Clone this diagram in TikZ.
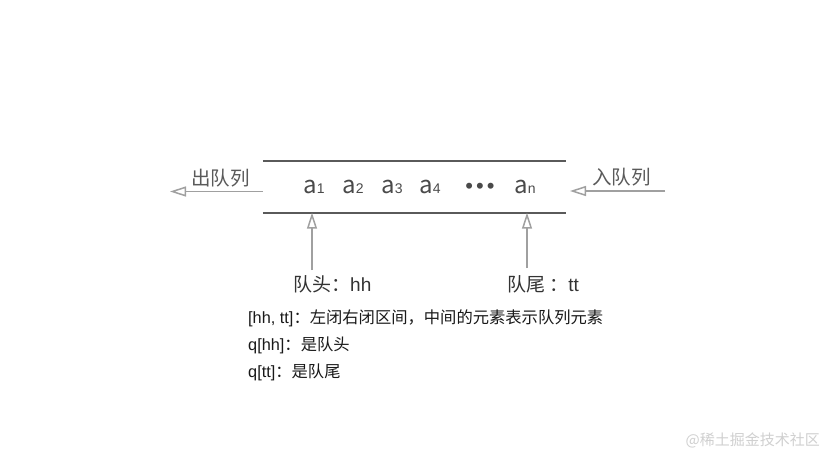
\documentclass[tikz,border=0pt]{standalone}
\usepackage{fontspec}
\setmainfont{Liberation Sans}
\newfontfamily\cjk{Noto Sans CJK SC}
\usetikzlibrary{arrows.meta,positioning}
\definecolor{ink}{HTML}{4A4A4A}
\definecolor{rule}{HTML}{5A5A5A}
\definecolor{pointer}{HTML}{A0A0A0}
\definecolor{mark}{HTML}{D0D0D0}
\tikzset{
  elem/.style={anchor=base, inner sep=0pt, text=ink},
  tag/.style={anchor=west, inner sep=0pt, text=rule,
    font=\cjk\fontsize{19.5}{19.5}\selectfont},
  note/.style={anchor=west, inner sep=0pt, text=black!90,
    font=\fontsize{16.3}{16.3}\selectfont},
  rail/.style={draw=rule, line width=1.8pt},
  ptr/.style={-{Triangle[open,length=16pt,width=10pt]}, draw=pointer, line width=1.5pt}
}
\newcommand{\elemtext}[2]{{\cjk\fontsize{24}{24}\selectfont #1}{\fontsize{14}{14}\selectfont #2}}

\begin{document}
\begin{tikzpicture}[x=1pt,y=-1pt]
  \useasboundingbox[fill=white] (0,0) rectangle (833,456);

  % queue body
  \node[minimum width=303pt, minimum height=51pt, inner sep=0pt] (queue) at (414.5,187) {};
  \draw[rail] (queue.north west) -- (queue.north east);
  \draw[rail] (queue.south west) -- (queue.south east);

  % elements
  \foreach \x/\k in {314/1,353/2,392/3,430/4}
    \node[elem] (a\k) at (\x,193) {\elemtext{a}{\k}};
  \node[elem, font=\fontsize{22}{22}\selectfont] (dots) at (480,193) {•\hspace{3pt}•\hspace{3pt}•};
  \node[elem] (an) at (525,193) {\elemtext{a}{n}};

  % dequeue / enqueue
  \node[tag] (deq) at (191,178) {出队列};
  \node[tag] (enq) at (592,177) {入队列};
  \coordinate (deqend) at (170,191.5);
  \coordinate (enqstart) at (665,191);
  \draw[ptr] (queue.west |- deqend) -- (deqend);
  \draw[ptr] (enqstart) -- (570,191);

  % head / tail pointers
  \node[tag, text=black!80, font=\fontsize{19}{19}\selectfont] (head) at (293,284)
    {{\cjk 队头：}hh};
  \node[tag, text=black!80, font=\fontsize{19}{19}\selectfont] (tail) at (507,284)
    {{\cjk 队尾 ：}tt};
  \coordinate (headfoot) at (312,270);
  \coordinate (tailfoot) at (527,268);
  \draw[ptr] (headfoot) -- (headfoot |- queue.south);
  \draw[ptr] (tailfoot) -- (tailfoot |- queue.south);

  % notes
  \node[note] (range) at (248,318) {[hh, tt]{\cjk ：左闭右闭区间，中间的元素表示队列元素}};
  \node[note] (qhead) at (248,345) {q[hh]{\cjk ：是队头}};
  \node[note] (qtail) at (248,372) {q[tt]{\cjk ：是队尾}};

  \node[anchor=east, inner sep=0pt, text=mark, font=\cjk\fontsize{15}{15}\selectfont]
    (wm) at (820,440) {@稀土掘金技术社区};
\end{tikzpicture}
\end{document}
